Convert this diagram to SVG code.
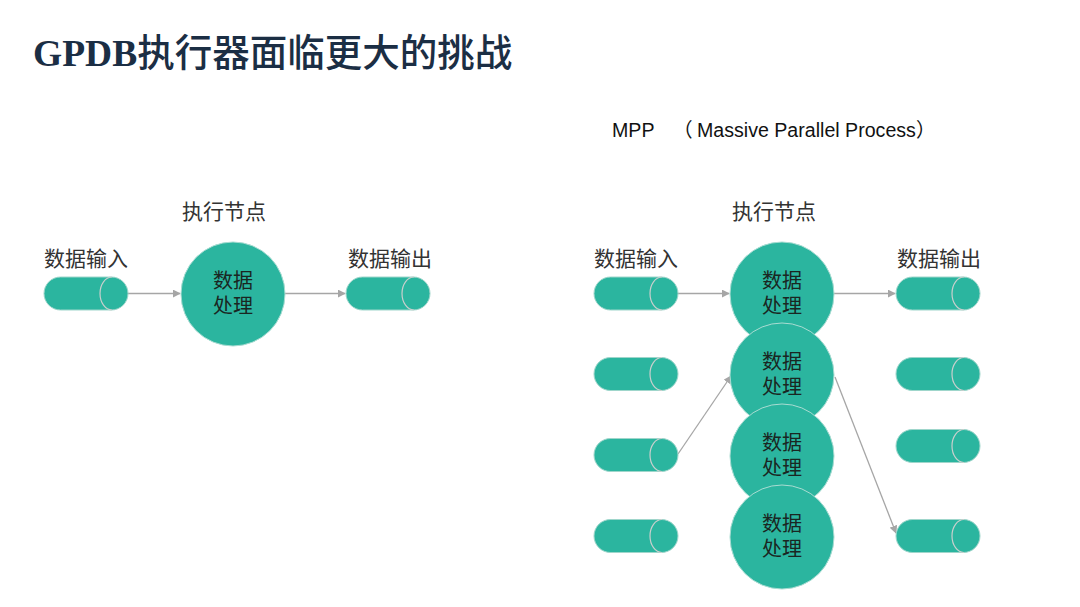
<svg xmlns="http://www.w3.org/2000/svg" width="1080" height="607" viewBox="0 0 1080 607">
<style>
.cyl{fill:#2bb59f;stroke:#9fd6cb;stroke-width:1}
.cap{fill:none;stroke:#c9cfcd;stroke-width:1.2}
.node{fill:#2bb59f;stroke:#a9dcd2;stroke-width:1}
.lbl{font-family:"Noto Sans CJK SC",sans-serif;font-size:21px;fill:#333}
.in{font-family:"Noto Sans CJK SC",sans-serif;font-size:20px;fill:#1a2622;text-anchor:middle}
.conn line{stroke:#a6a6a6;stroke-width:1.3;marker-end:url(#ah)}
</style>
<defs>
<marker id="ah" viewBox="0 0 10 10" refX="9" refY="5" markerWidth="8" markerHeight="8" markerUnits="userSpaceOnUse" orient="auto">
<path d="M0,0 L10,5 L0,10 z" fill="#a6a6a6"/>
</marker>
<g id="cy">
<rect x="0" y="-16.5" width="84" height="33" rx="16.5" class="cyl"/>
<path d="M68,-16.5 A12,16.5 0 0 0 68,16.5" class="cap"/>
</g>
</defs>
<rect width="1080" height="607" fill="#fff"/>
<text x="33" y="66" style="font-size:37.5px;font-weight:bold;fill:#1b2e44"><tspan style="font-family:'Liberation Serif',serif">GPDB</tspan><tspan style="font-family:'Noto Sans CJK SC',sans-serif;font-weight:500">执行器面临更大的挑战</tspan></text>
<text y="137" style="font-family:'Liberation Sans','Noto Sans CJK SC',sans-serif;font-size:19.6px;fill:#111"><tspan x="612">MPP</tspan><tspan x="673">（</tspan><tspan x="697">Massive Parallel Process</tspan><tspan>）</tspan></text>

<g class="conn">
<line x1="128" y1="293.5" x2="180" y2="293.5"/>
<line x1="285" y1="293.5" x2="345" y2="293.5"/>
<line x1="678" y1="293.5" x2="729" y2="293.5"/>
<line x1="834" y1="293.5" x2="895" y2="293.5"/>
<line x1="678" y1="454" x2="731" y2="376"/>
<line x1="835" y1="377" x2="896" y2="533"/>
</g>

<g id="left">
<text class="lbl" x="44" y="266">数据输入</text>
<text class="lbl" x="182" y="219">执行节点</text>
<text class="lbl" x="348" y="266">数据输出</text>
<g id="l-in"><use href="#cy" x="44" y="293.5"/></g>
<g id="l-node"><circle cx="233" cy="294" r="52" class="node"/><text class="in" x="233" y="288">数据<tspan x="233" dy="25">处理</tspan></text></g>
<g id="l-out"><use href="#cy" x="346" y="293.5"/></g>
</g>

<g id="right">
<text class="lbl" x="594" y="266">数据输入</text>
<text class="lbl" x="732" y="219">执行节点</text>
<text class="lbl" x="897" y="266">数据输出</text>
<g id="r-in1"><use href="#cy" x="594" y="293.5"/></g>
<g id="r-in2"><use href="#cy" x="594" y="374"/></g>
<g id="r-in3"><use href="#cy" x="594" y="455"/></g>
<g id="r-in4"><use href="#cy" x="594" y="536"/></g>
<g id="r-out1"><use href="#cy" x="896" y="293.5"/></g>
<g id="r-out2"><use href="#cy" x="896" y="374"/></g>
<g id="r-out3"><use href="#cy" x="896" y="446"/></g>
<g id="r-out4"><use href="#cy" x="896" y="536"/></g>
<g id="r-node1"><circle cx="782" cy="294" r="52" class="node"/><text class="in" x="782" y="288">数据<tspan x="782" dy="25">处理</tspan></text></g>
<g id="r-node2"><circle cx="782" cy="375" r="52" class="node"/><text class="in" x="782" y="369">数据<tspan x="782" dy="25">处理</tspan></text></g>
<g id="r-node3"><circle cx="782" cy="456" r="52" class="node"/><text class="in" x="782" y="450">数据<tspan x="782" dy="25">处理</tspan></text></g>
<g id="r-node4"><circle cx="782" cy="537" r="52" class="node"/><text class="in" x="782" y="531">数据<tspan x="782" dy="25">处理</tspan></text></g>
</g>
</svg>
